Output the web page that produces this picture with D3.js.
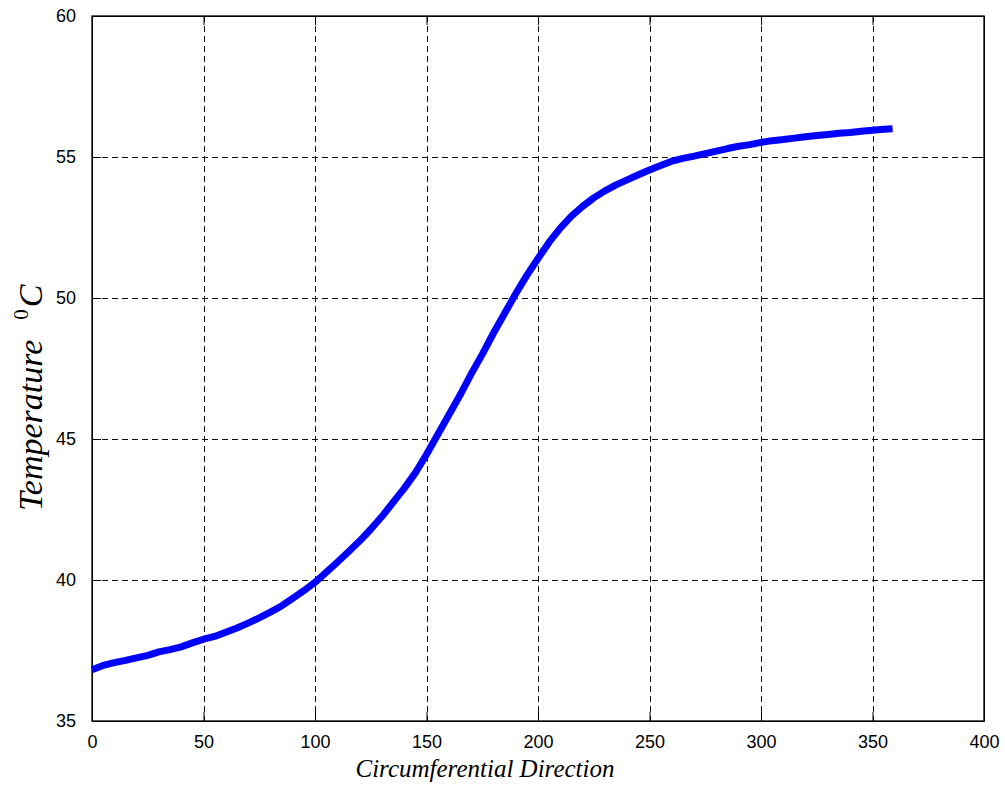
<!DOCTYPE html>
<html lang="en">
<head>
  <meta charset="UTF-8">
  <title>Temperature vs Circumferential Direction</title>
  <script src="https://d3js.org/d3.v7.min.js"></script>
  <style>
    body { margin: 0; background: #fff; }
    svg { font-family: "Liberation Sans", Arial, sans-serif; }
    .axis path, .axis line { stroke: #000; }
  </style>
</head>
<body>
  <svg width="1005" height="787"></svg>
  <script>
    // circumferential position (deg) and temperature (degC)
    const position = [0, 5, 10, 15, 20, 25, 30, 35, 40, 45, 50, 55, 60, 65, 70, 75, 80, 85, 90, 95,
      100, 105, 110, 115, 120, 125, 130, 135, 140, 145, 150, 155, 160, 165, 170, 175, 180, 185, 190, 195,
      200, 205, 210, 215, 220, 225, 230, 235, 240, 245, 250, 255, 260, 265, 270, 275, 280, 285, 290, 295,
      300, 305, 310, 315, 320, 325, 330, 335, 340, 345, 350, 355, 359];
    const temperature = [36.82, 36.97, 37.07, 37.15, 37.24, 37.33, 37.45, 37.53, 37.63, 37.77, 37.9, 38.0, 38.15, 38.3, 38.47, 38.66, 38.86, 39.08, 39.35, 39.62,
      39.92, 40.27, 40.63, 41.0, 41.38, 41.8, 42.25, 42.75, 43.25, 43.8, 44.45, 45.15, 45.85, 46.55, 47.3, 48.0, 48.75, 49.45, 50.15, 50.8,
      51.4, 51.98, 52.48, 52.9, 53.25, 53.55, 53.8, 54.01, 54.19, 54.37, 54.54, 54.7, 54.85, 54.95, 55.03, 55.12, 55.21, 55.3, 55.38, 55.44,
      55.52, 55.58, 55.62, 55.67, 55.72, 55.76, 55.8, 55.84, 55.87, 55.91, 55.95, 55.98, 56.0];
    const xTicks = [0, 50, 100, 150, 200, 250, 300, 350, 400];
    const yTicks = [35, 40, 45, 50, 55, 60];

    const svg = d3.select("svg");
    const margin = { top: 16, right: 21, bottom: 66, left: 92 };
    const width = +svg.attr("width");
    const height = +svg.attr("height");

    const x = d3.scaleLinear().domain([0, 400]).range([margin.left, width - margin.right]);
    const y = d3.scaleLinear().domain([35, 60]).range([height - margin.bottom, margin.top]);

    // dashed grid
    const grid = svg.append("g")
      .attr("stroke", "#111")
      .attr("stroke-width", 1)
      .attr("stroke-dasharray", "6,4");
    grid.selectAll(".vg")
      .data(xTicks.slice(1, -1))
      .enter().append("line")
      .attr("x1", d => Math.round(x(d)) + 0.5).attr("x2", d => Math.round(x(d)) + 0.5)
      .attr("y1", y(60)).attr("y2", y(35));
    grid.selectAll(".hg")
      .data(yTicks.slice(1, -1))
      .enter().append("line")
      .attr("y1", d => Math.round(y(d)) + 0.5).attr("y2", d => Math.round(y(d)) + 0.5)
      .attr("x1", x(0)).attr("x2", x(400));

    // axes, ticks pointing inwards
    const xAxis = svg.append("g")
      .attr("class", "axis")
      .attr("transform", `translate(0,${y(35)})`)
      .call(d3.axisBottom(x).tickValues(xTicks).tickSize(-9).tickPadding(14).tickSizeOuter(0));
    xAxis.selectAll("text").attr("dy", "0.71em").attr("font-size", 18).attr("fill", "#000");
    svg.append("g")
      .attr("class", "axis")
      .attr("transform", `translate(0,${y(60)})`)
      .call(d3.axisTop(x).tickValues(xTicks).tickSize(-9).tickFormat("").tickSizeOuter(0));
    const yAxis = svg.append("g")
      .attr("class", "axis")
      .attr("transform", `translate(${x(0)},0)`)
      .call(d3.axisLeft(y).tickValues(yTicks).tickSize(-9).tickPadding(16).tickSizeOuter(0));
    yAxis.selectAll("text").attr("font-size", 18).attr("fill", "#000");
    svg.append("g")
      .attr("class", "axis")
      .attr("transform", `translate(${x(400)},0)`)
      .call(d3.axisRight(y).tickValues(yTicks).tickSize(-9).tickFormat("").tickSizeOuter(0));

    // frame
    svg.append("rect")
      .attr("x", x(0)).attr("y", y(60))
      .attr("width", x(400) - x(0)).attr("height", y(35) - y(60))
      .attr("fill", "none").attr("stroke", "#000").attr("stroke-width", 1.3);

    // temperature curve
    const line = d3.line()
      .x((d, i) => x(position[i]))
      .y(d => y(d));
    svg.append("path")
      .datum(temperature)
      .attr("fill", "none")
      .attr("stroke", "#0000ff")
      .attr("stroke-width", 7)
      .attr("stroke-linejoin", "round")
      .attr("d", line);

    // axis titles
    svg.append("text")
      .attr("x", 485).attr("y", 777)
      .attr("text-anchor", "middle")
      .attr("font-family", "'Liberation Serif', 'Times New Roman', serif")
      .attr("font-style", "italic")
      .attr("font-size", "25px")
      .text("Circumferential Direction");

    const yTitle = svg.append("text")
      .attr("transform", "translate(42,511) rotate(-90)")
      .attr("font-family", "'Liberation Serif', 'Times New Roman', serif")
      .attr("font-style", "italic")
      .attr("font-size", "34px");
    yTitle.append("tspan").text("Temperature");
    yTitle.append("tspan").attr("dx", 20).attr("dy", -14).attr("font-size", "21px").attr("font-style", "normal").text("0");
    yTitle.append("tspan").attr("dx", 2).attr("dy", 14).text("C");
  </script>
</body>
</html>
